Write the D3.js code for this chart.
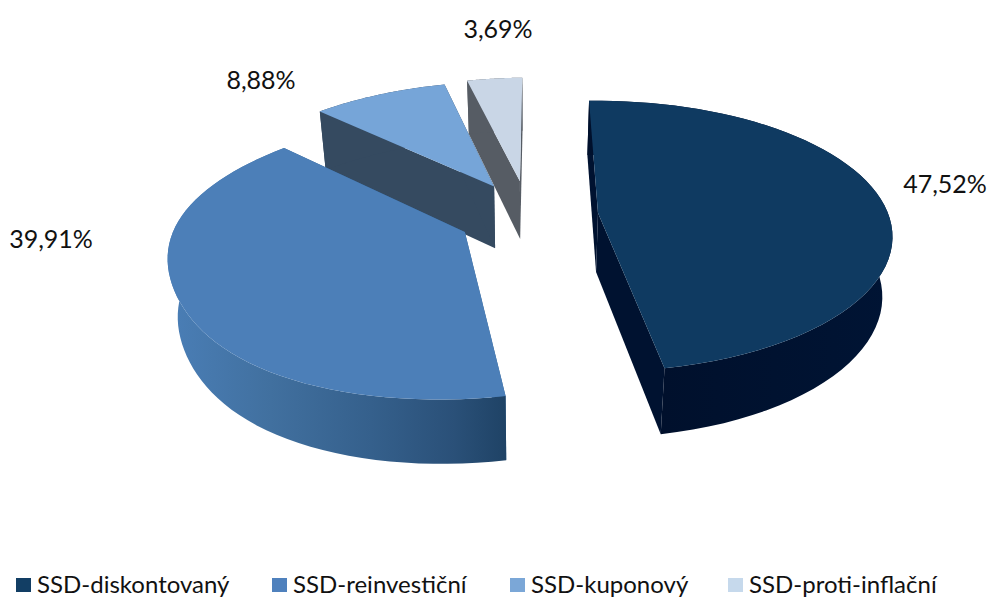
<!DOCTYPE html>
<html>
<head>
<meta charset="utf-8">
<script src="https://cdn.jsdelivr.net/npm/d3@7"></script>
<style>
  html, body { margin: 0; padding: 0; background: #fff; }
  text { font-family: Lato, "Open Sans", sans-serif; fill: #111; }
</style>
</head>
<body>
<svg id="chart" width="987" height="598"></svg>
<script>
const categories = ["SSD-diskontovaný", "SSD-reinvestiční", "SSD-kuponový", "SSD-proti-inflační"];
const values = [47.52, 39.91, 8.88, 3.69];
const valueLabels = ["47,52%", "39,91%", "8,88%", "3,69%"];
const topColors = ["#0f3a61", "#4c7fb8", "#76a5d8", "#c9d6e6"];
const wallColors = ["#001230", "#2f5f8e", "#354a60", "#565c64"];
const legendColors = ["#123e64", "#4f81bd", "#7ba7d7", "#c6d9ec"];

const svg = d3.select("#chart");
const rad = Math.PI / 180;

// perspective of the pie plane, worked out from the corners of the slices
const horizonX = 590, horizonY = -553;
const radiusX = 0.3785, radiusD = 0.000224, baseD = 0.0012997;
const centerU = -0.211, centerX = 529;
const explodeU = [0.24, 0.24, 0.255, 0.28];
const explodeV = [0.24, 0.24, 0.275, 0.28];
const depthTrim = [0, 3, -4, 0];

function project(u, v, lower, trim) {
  const d = baseD - radiusD * v;
  const x = horizonX + radiusX * u / d;
  const y = horizonY + 1 / d;
  if (!lower) return [x, y];
  // bottom face: a bit lower and pulled towards the middle
  return [centerX + (x - centerX) * 0.972, y + 25.4 + 0.044 / d - trim];
}

// the reference's rim is flatter at lower left than a true circle
function rimScale(a) {
  const t = (a / rad - 245) / 30;
  return 1 - 0.035 * Math.exp(-t * t);
}

const pie = d3.pie().sort(null)
  .startAngle(-1.8 * rad)
  .endAngle((360 - 1.8) * rad);
const slices = pie(values);
const line = d3.line();

const defs = svg.append("defs");
const grad2 = defs.append("linearGradient").attr("id", "side2")
  .attr("gradientUnits", "userSpaceOnUse")
  .attr("x1", 170).attr("x2", 505).attr("y1", 0).attr("y2", 0);
[[0, "#4a7eb6"], [0.3, "#41709f"], [0.6, "#35608c"], [0.85, "#2a5078"], [1, "#1f4366"]]
  .forEach(s => grad2.append("stop").attr("offset", s[0]).attr("stop-color", s[1]));
const grad1 = defs.append("linearGradient").attr("id", "side1")
  .attr("gradientUnits", "userSpaceOnUse")
  .attr("x1", 660).attr("x2", 890).attr("y1", 0).attr("y2", 0);
[[0, "#00102c"], [1, "#001434"]]
  .forEach(s => grad1.append("stop").attr("offset", s[0]).attr("stop-color", s[1]));

const outerFill = i => i === 0 ? "url(#side1)" : i === 1 ? "url(#side2)" : wallColors[i];

// back slices first
const order = [3, 2, 1, 0];
const gPie = svg.append("g").attr("class", "pie");

order.forEach(i => {
  const s = slices[i];
  const mid = (s.startAngle + s.endAngle) / 2;
  const cu = centerU + explodeU[i] * Math.sin(mid);
  const cv = -explodeV[i] * Math.cos(mid);
  const steps = d3.range(0, 61).map(k => s.startAngle + (s.endAngle - s.startAngle) * k / 60);
  const rim = lower => steps.map(a => {
    const r = rimScale(a);
    return project(cu + r * Math.sin(a), cv - r * Math.cos(a), lower, depthTrim[i]);
  });
  const apex = lower => project(cu, cv, lower, depthTrim[i]);

  const g = gPie.append("g").attr("class", "slice");
  const rimTop = rim(false), rimLow = rim(true);

  // the two radial walls
  [0, 60].forEach(k => {
    g.append("path")
      .attr("d", line([apex(false), rimTop[k], rimLow[k], apex(true)]) + "Z")
      .attr("fill", wallColors[i]);
  });
  // outer wall
  g.append("path")
    .attr("d", line(rimTop.concat(rimLow.slice().reverse())) + "Z")
    .attr("fill", outerFill(i));
  // top face
  g.append("path")
    .attr("d", line([apex(false)].concat(rimTop)) + "Z")
    .attr("fill", topColors[i]);
});

// percentage labels
const labelX = [945, 51, 261, 498];
const labelY = [184, 239, 80, 29];
svg.append("g").selectAll("text")
  .data(valueLabels)
  .join("text")
  .attr("x", (d, i) => labelX[i])
  .attr("y", (d, i) => labelY[i])
  .attr("dy", "0.35em")
  .attr("text-anchor", "middle")
  .attr("font-size", 25)
  .text(d => d);

// legend
const legendX = [16, 272, 510, 728];
const legend = svg.append("g").selectAll("g")
  .data(categories)
  .join("g")
  .attr("transform", (d, i) => `translate(${legendX[i]},578)`);
legend.append("rect")
  .attr("width", 15).attr("height", 14)
  .attr("fill", (d, i) => legendColors[i]);
legend.append("text")
  .attr("x", 21).attr("y", 14.5)
  .attr("font-size", 24)
  .text(d => d);
</script>
</body>
</html>
